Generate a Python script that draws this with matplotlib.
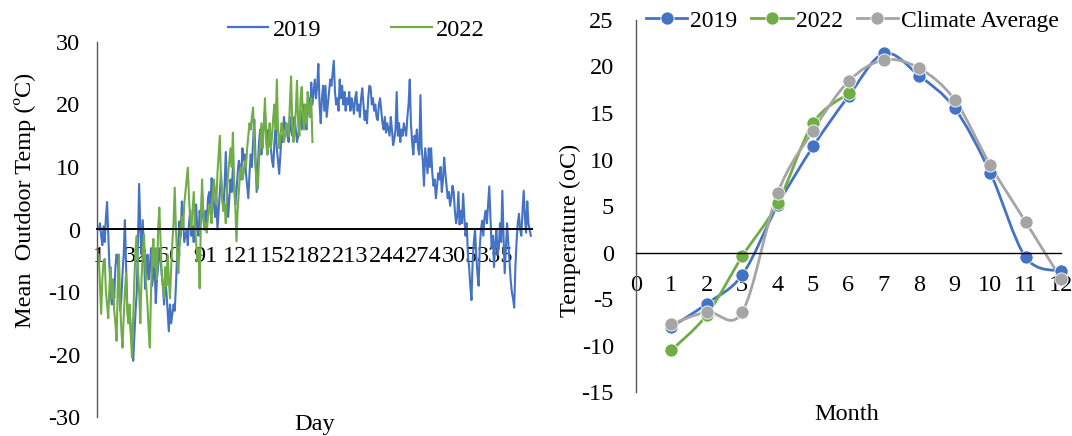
import numpy as np
import matplotlib
matplotlib.use("Agg")
import matplotlib.pyplot as plt
from matplotlib.path import Path
from matplotlib.patches import PathPatch
from matplotlib.lines import Line2D

plt.rcParams["font.family"] = ["Liberation Serif", "DejaVu Serif"]
plt.rcParams["axes.unicode_minus"] = False
FS = 17.5

BLUE = "#4472C4"
GREEN = "#70AD47"
GREY = "#A5A5A5"

# ---------------- daily mean outdoor temperature (deg C) ----
jan19 = [0, 1, -1, -2.5, 0.5, -2, 2, 4.4, -1, -6, -10, -12, -8, -11, -6, -4, -5, -9,
         -13, -11, -7, -4, 1.5, -6, -12, -15, -13, -16, -18, -21, -17]
feb19 = [-13, -10, -2, 7.3, 0, -4, 1.5, -3, -9.5, -7, -4, -8, -6, -3, -9, -7, -5,
         -11.8, -8, -6, -3, -4.6, -7, -9, -12, -8, -10, -13]
mar19 = [-16.3, -12, -15, -13.5, -12, -13, -9, -4, -2, 1.3, -1, 4.5, 2, -2, -1, 0,
         -2.5, 1, 3, -1, 0.5, -2, 2, 4, 0, -1, 3, 1, 5.9, 2, 0]
apr19 = [3, 1, 5, 6, 3, 8.2, 7, 4, 2, 5, 0, 3, 6, 9, 5, 3, 7, 12.4, 6, 2, 5, 8, 6,
         10, 7, 4, 6, 9, 11, 10]
may19 = [8, 13, 11, 12, 9, 7, 5, 9, 12, 10, 14, 17.6, 12, 6, 10, 14, 16, 12, 15, 17,
         19, 15, 12, 16, 14, 13, 11, 10, 14, 16, 13]
jun19 = [11, 8.9, 12, 15, 14, 18, 16, 17, 15, 14, 18, 16, 15, 17, 18, 16, 14, 15, 17,
         19, 16, 18, 20, 17, 16, 19, 21, 18, 23.5, 20]
jul19 = [22, 24, 21, 23, 26.5, 20, 17, 21, 23, 19, 23, 18, 20, 22, 24, 23, 25, 27, 22,
         20, 21, 19, 24, 21, 23, 20, 22, 19, 21, 20, 22]
aug19 = [19, 21, 20, 18.5, 21, 22, 19, 20, 18, 21, 22.6, 20, 17.5, 19, 17, 21, 23,
         22.8, 20, 21, 19, 20, 18, 17.5, 20, 21, 19, 17, 16, 18, 15.5]
sep19 = [17, 16, 15, 18, 16, 13.5, 14.5, 16, 22, 15, 17, 14, 16, 15, 17, 16, 15, 18,
         20, 24, 17, 14, 12, 15, 14, 16, 13, 12, 21.5, 13]
oct19 = [11, 7, 13, 11, 9, 13, 10, 13, 9, 7, 8, 5, 7, 9, 8, 10, 6, 8, 11.5, 9, 7, 5,
         6, 3.8, 5, 7, 6, 3, 1, 2, 6]
nov19 = [0.8, 3, 1, 5.7, 2, -1, 1, -4, -6, -9, -11.3, -5, -2, 0, -4, -7, -9, -3, 0,
         1.4, -1, 2, 3, 1, 4, 6.9, 2, -3, -1, -6]
dec19 = [-2, 0, -4, -3, 1, -2, 6.2, -1, -7, -3, 1, -2, -5, -8, -10, -11, -12.5, -6,
         -2, 1, 2.5, 0, -1, 3, 6.2, 2, -0.5, 4.5, 1, 0, -1]

jan22 = [-4, -9, -13.5, -8, -5, -4.7, -10, -12, -14.2, -9, -6, -11, -8, -13, -15,
         -17.8, -9, -4, -12, -16, -18.9, -14, -10, -7, -13, -15, -12, -17, -20.5, -14, -8]
feb22 = [-3, -1, -6, -10, -15, -8, -4, -0.8, -5, -9, -12, -16, -18.9, -10, -4, -1.5,
         -6, -3, -8, 0, 3.5, -2, -7, -9, -11, -6, -9, -4]
mar22 = [-8, -11, -6, -2, 1, 6.7, 0, -4, -7, -3, -1, 2, 0, 4, 6, 8, 9.9, 5, 2, 0, 3,
         6, 1, -2, -5, -3, -9.4, 1, 8, 3, 0]
apr22 = [1, -0.5, 2, 4, 3, 1, 5, 8, 6, 4, 9, 12, 15, 8, 5, 3, 4, 1, 6, 9, 11, 13, 10,
         15.5, 8, 4, -1.9, 3, 6, 9]
may22 = [10, 8, 9, 11, 10, 13, 15, 17, 16, 18, 19.5, 14, 10, 8, 6.5, 11, 14, 17, 13,
         16, 21, 15, 12, 14, 17, 13, 15, 18, 20, 16, 24]
jun22 = [16, 13, 15, 17, 16, 14, 15, 17, 16, 15, 20, 24.5, 17, 14, 16, 19, 23.8, 17,
         15, 21, 22.8, 18, 16, 20, 17, 22, 19, 18, 21, 14]

t2019 = jan19 + feb19 + mar19 + apr19 + may19 + jun19 + jul19 + aug19 + sep19 + oct19 + nov19 + dec19
t2022 = jan22 + feb22 + mar22 + apr22 + may22 + jun22
day_ticks = [1, 32, 60, 91, 121, 152, 182, 213, 244, 274, 305, 335]

# ---------------- monthly means ----------------------------------------------
months = list(range(1, 13))
mon_2019 = [-8.0, -5.5, -2.4, 5.1, 11.4, 16.8, 21.4, 19.0, 15.5, 8.6, -0.5, -2.0]
mon_2022 = [-10.5, -6.7, -0.4, 5.3, 13.9, 17.1]
mon_clim = [-7.7, -6.4, -6.4, 6.4, 13.1, 18.4, 20.7, 19.8, 16.4, 9.4, 3.3, -2.8]


def smooth_path(xs, ys, k=1 / 6):
    # excel-style smoothed line: catmull-rom segments as cubic beziers
    p = np.column_stack([xs, ys]).astype(float)
    n = len(p)
    verts, codes = [p[0]], [Path.MOVETO]
    for i in range(n - 1):
        p0, p1, p2, p3 = p[max(i - 1, 0)], p[i], p[i + 1], p[min(i + 2, n - 1)]
        verts += [p1 + (p2 - p0) * k, p2 - (p3 - p1) * k, p2]
        codes += [Path.CURVE4] * 3
    return Path(verts, codes)


fig = plt.figure(figsize=(10.72, 4.36), dpi=100)

# ---------------- left: daily ------------------------------------------------
ax1 = fig.add_axes([97 / 1072, 1 - 417 / 436, 435 / 1072, 375 / 436])
ax1.plot(np.arange(1, len(t2019) + 1), t2019, color=BLUE, lw=1.5)
ax1.plot(np.arange(1, len(t2022) + 1), t2022, color=GREEN, lw=1.5)
ax1.set_xlim(-0.5, 366)
ax1.set_ylim(-30, 30)
ax1.set_yticks(range(-30, 31, 10))
ax1.set_xticks(day_ticks)
ax1.set_xticklabels([str(d) for d in day_ticks])
ax1.tick_params(length=0, labelsize=FS)
ax1.tick_params(axis="x", pad=12)
ax1.tick_params(axis="y", pad=12)
for s in ("top", "right"):
    ax1.spines[s].set_visible(False)
ax1.spines["bottom"].set_position(("data", 0))
ax1.spines["bottom"].set_color("black")
ax1.spines["bottom"].set_linewidth(1.4)
ax1.spines["left"].set_color("#595959")
ax1.spines["left"].set_linewidth(1.0)

fig.legend(handles=[Line2D([], [], color=BLUE, lw=1.6, label="2019"),
                    Line2D([], [], color=GREEN, lw=1.6, label="2022")],
           loc="center left", bbox_to_anchor=(228 / 1072, 1 - 30 / 436), ncol=2,
           frameon=False, borderaxespad=0, borderpad=0, handlelength=1.65,
           handletextpad=0.18, columnspacing=2.9, fontsize=FS)
fig.text(25 / 1072, 1 - 200 / 436, "Mean  Outdoor Temp (ºC)", rotation=90,
         ha="center", va="center", fontsize=FS)
fig.text(315 / 1072, 1 - 424 / 436, "Day", ha="center", va="center", fontsize=FS)

# ---------------- right: monthly ---------------------------------------------
ax2 = fig.add_axes([636 / 1072, 1 - 392 / 436, 425 / 1072, 372 / 436])
series = [(mon_2019, BLUE, "2019"), (mon_2022, GREEN, "2022"),
          (mon_clim, GREY, "Climate Average")]
handles = []
for vals, col, lbl in series:
    xs = months[:len(vals)]
    ax2.add_patch(PathPatch(smooth_path(xs, vals), fc="none", ec=col, lw=2.0,
                            clip_on=False))
    ax2.plot(xs, vals, ls="none", marker="o", ms=9.5, mfc=col, mec="white",
             mew=0.6, clip_on=False)
    handles.append(Line2D([], [], color=col, lw=2.0, marker="o", ms=9.5,
                          mfc=col, mec="white", mew=0.6, label=lbl))
ax2.set_xlim(0, 12)
ax2.set_ylim(-15, 25)
ax2.set_xticks(range(0, 13))
ax2.set_yticks(range(-15, 26, 5))
ax2.tick_params(length=0, labelsize=FS)
ax2.tick_params(axis="x", pad=16)
ax2.tick_params(axis="y", pad=16)
for s in ("top", "right"):
    ax2.spines[s].set_visible(False)
ax2.spines["bottom"].set_position(("data", 0))
ax2.spines["bottom"].set_color("black")
ax2.spines["bottom"].set_linewidth(1.0)
ax2.spines["left"].set_color("#595959")
ax2.spines["left"].set_linewidth(1.0)

fig.legend(handles=handles, loc="center left",
           bbox_to_anchor=(646 / 1072, 1 - 21 / 436), ncol=3, frameon=False,
           borderaxespad=0, borderpad=0, handlelength=1.75, handletextpad=0.12,
           columnspacing=0.6, fontsize=17)
fig.text(570 / 1072, 1 - 230 / 436, "Temperature (oC)", rotation=90,
         ha="center", va="center", fontsize=FS)
fig.text(847 / 1072, 1 - 414 / 436, "Month", ha="center", va="center", fontsize=FS)

fig.savefig("out.png", dpi=100)
